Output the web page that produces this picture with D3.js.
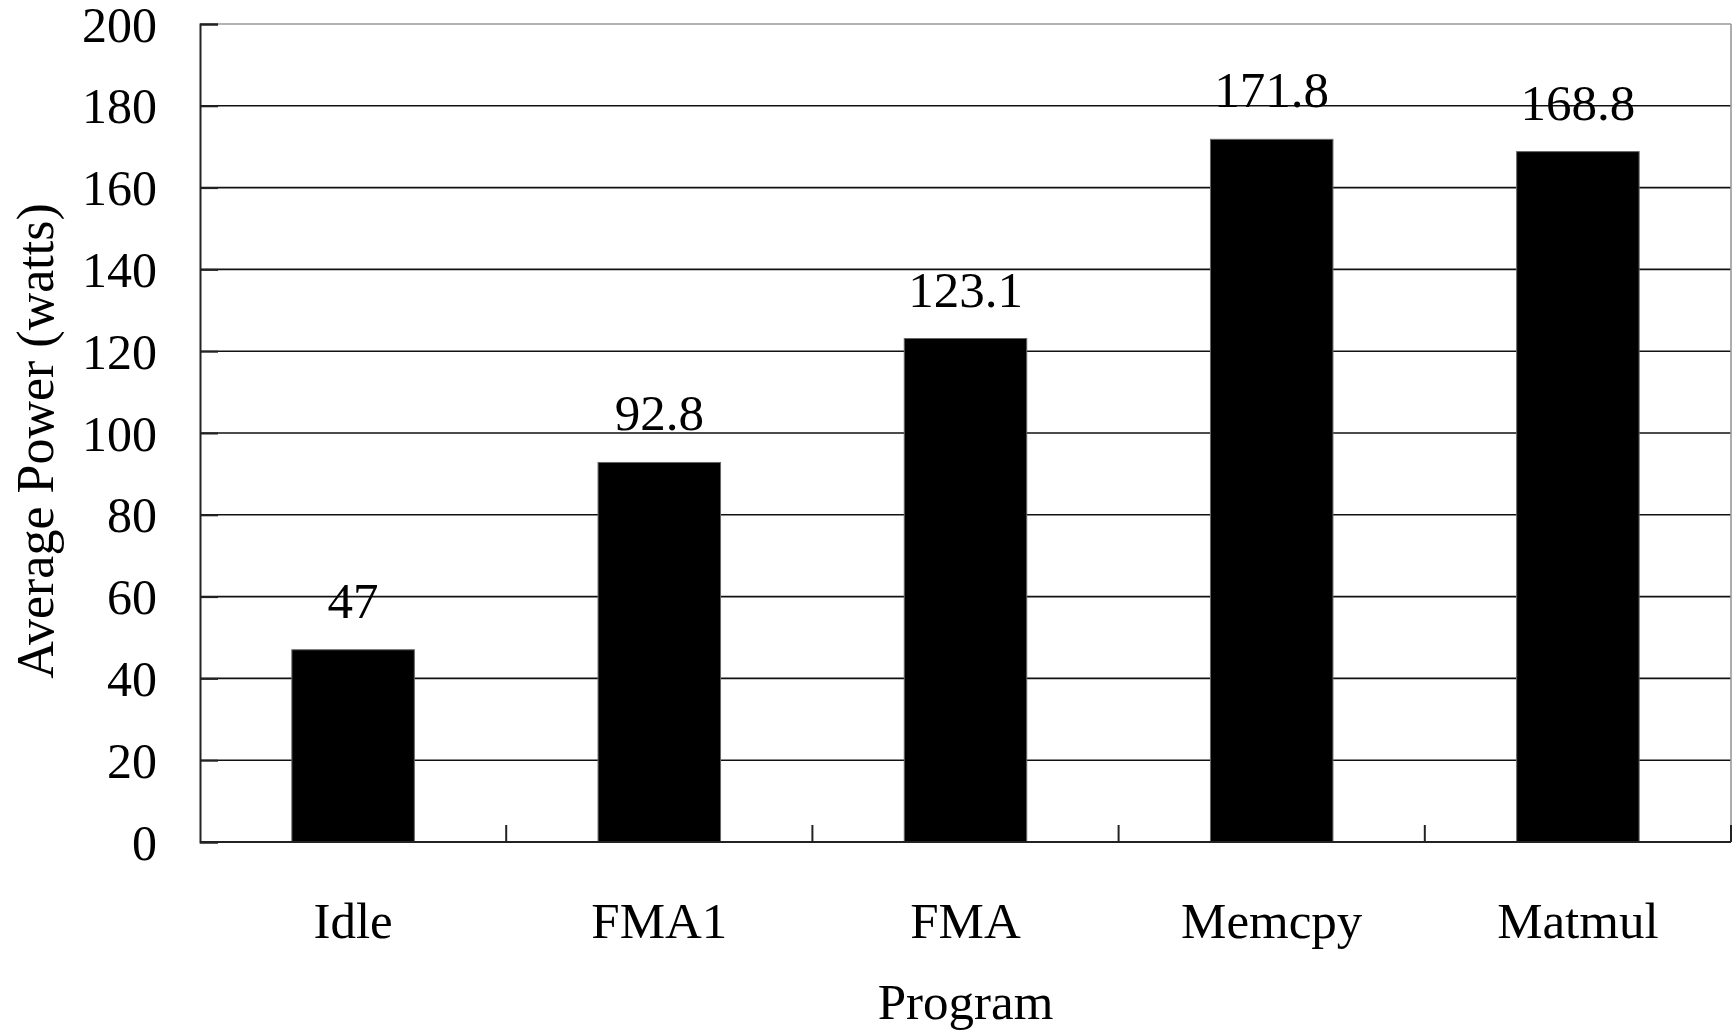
<!DOCTYPE html>
<html><head><meta charset="utf-8">
<script src="https://cdn.jsdelivr.net/npm/d3@7"></script>
<style>body{margin:0;background:#fff}</style>
</head><body>
<script>
const categories = ["Idle","FMA1","FMA","Memcpy","Matmul"];
const values = [47, 92.8, 123.1, 171.8, 168.8];
const valueLabels = ["47","92.8","123.1","171.8","168.8"];
const yTicks = [0,20,40,60,80,100,120,140,160,180,200];

const W = 1736, H = 1031;
const m = {left:200, right:5, top:24, bottom:189};
const svg = d3.select("body").append("svg").attr("width",W).attr("height",H);
const font = "'Liberation Serif', 'Times New Roman', serif";

const x = d3.scaleBand().domain(categories).range([m.left, W-m.right]).paddingInner(0.6).paddingOuter(0.3);
const xb = d3.scaleBand().domain(categories).range([m.left, W-m.right]);
const y = d3.scaleLinear().domain([0,200]).range([H-m.bottom, m.top]);

// gridlines
svg.append("g").selectAll("line").data(yTicks.filter(t=>t>0 && t<200)).join("line")
  .attr("x1",m.left).attr("x2",W-m.right).attr("y1",d=>y(d)).attr("y2",d=>y(d))
  .attr("stroke","#111").attr("stroke-width",1.6);
// top & right border (gray)
svg.append("line").attr("x1",m.left).attr("x2",W-m.right).attr("y1",y(200)).attr("y2",y(200))
  .attr("stroke","#999").attr("stroke-width",1.6);
svg.append("line").attr("x1",W-m.right).attr("x2",W-m.right).attr("y1",y(200)).attr("y2",y(0))
  .attr("stroke","#999").attr("stroke-width",1.6);

// bars
svg.append("g").selectAll("rect").data(values).join("rect")
  .attr("x",(d,i)=>x(categories[i])).attr("width",x.bandwidth())
  .attr("y",d=>y(d)).attr("height",d=>y(0)-y(d))
  .attr("fill","#000").attr("stroke","#666").attr("stroke-width",1);

// value labels
svg.append("g").selectAll("text").data(values).join("text")
  .attr("x",(d,i)=>x(categories[i])+x.bandwidth()/2).attr("y",d=>y(d)-32)
  .attr("text-anchor","middle").attr("font-family",font).attr("font-size",51).attr("fill","#000")
  .text((d,i)=>valueLabels[i]);

// y axis
const yAxis = d3.axisLeft(y).tickValues(yTicks).tickSize(-18).tickPadding(0);
const gy = svg.append("g").attr("transform",`translate(${m.left},0)`).call(yAxis);
gy.select(".domain").attr("stroke","#222").attr("stroke-width",2);
gy.selectAll(".tick line").attr("stroke","#222").attr("stroke-width",2);
gy.selectAll(".tick text").attr("font-family",font).attr("font-size",50).attr("fill","#000")
  .attr("x",-43).attr("dy","0.34em");

// x axis
const gx = svg.append("g").attr("transform",`translate(0,${y(0)})`);
gx.append("line").attr("x1",m.left).attr("x2",W-m.right).attr("stroke","#222").attr("stroke-width",2);
const bounds = categories.map(c=>xb(c)+xb.bandwidth());
gx.selectAll("line.t").data(bounds).join("line").attr("class","t")
  .attr("x1",d=>d).attr("x2",d=>d).attr("y1",0).attr("y2",-17).attr("stroke","#222").attr("stroke-width",2);
gx.selectAll("text").data(categories).join("text")
  .attr("x",d=>xb(d)+xb.bandwidth()/2).attr("y",96)
  .attr("text-anchor","middle").attr("font-family",font).attr("font-size",51).attr("fill","#000")
  .text(d=>d);

// axis titles
svg.append("text").attr("x",(m.left+W-m.right)/2).attr("y",1019).attr("text-anchor","middle")
  .attr("font-family",font).attr("font-size",51).attr("fill","#000").text("Program");
svg.append("text").attr("transform","translate(53,441) rotate(-90)").attr("text-anchor","middle")
  .attr("font-family",font).attr("font-size",52).attr("fill","#000").text("Average Power (watts)");
</script>
</body></html>
